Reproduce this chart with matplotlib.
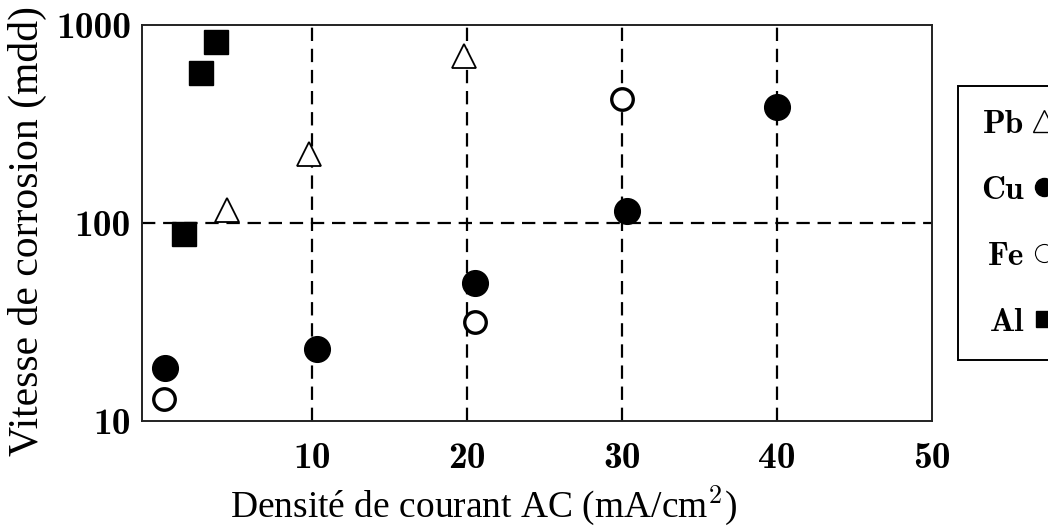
import matplotlib.pyplot as plt
from matplotlib.lines import Line2D

# values (log scale on y)
pb_x = [4.5, 9.8, 19.8]
pb_y = [116, 223, 700]

cu_x = [0.5, 10.3, 20.5, 30.3, 40.0]
cu_y = [18.5, 23, 50, 115, 384]

fe_x = [0.4, 20.5, 30.0]
fe_y = [12.9, 31.5, 424]

al_x = [1.7, 2.8, 3.8]
al_y = [88, 570, 822]

x_ticks = [10, 20, 30, 40, 50]
y_ticks = [10, 100, 1000]
x_grid = [10, 20, 30, 40]
y_grid = [100]

plt.rcParams['mathtext.fontset'] = 'cm'

fig = plt.figure(figsize=(10.48, 5.32), dpi=100)
ax = fig.add_axes([142 / 1048, 1 - 421 / 532, 790 / 1048, 396 / 532])

ax.set_yscale('log')
ax.set_xlim(-1, 50)
ax.set_ylim(10, 1000)

# dashed reference lines
for gx in x_grid:
    ax.axvline(gx, color='black', lw=1.6, ls=(0, (6, 3.5)), zorder=1)
for gy in y_grid:
    ax.axhline(gy, color='black', lw=1.6, ls=(0, (6, 3.5)), zorder=1)

ax.plot(pb_x, pb_y, ls='none', marker='^', ms=17, mfc='white', mec='black', mew=1.3, zorder=3)
ax.plot(cu_x, cu_y, ls='none', marker='o', ms=18.5, mfc='black', mec='black', zorder=3)
ax.plot(fe_x, fe_y, ls='none', marker='o', ms=15.5, mfc='white', mec='black', mew=2.4, zorder=3)
ax.plot(al_x, al_y, ls='none', marker='s', ms=17, mfc='black', mec='black', zorder=3)

ax.set_xticks(x_ticks)
ax.set_xticklabels([str(t) for t in x_ticks])
ax.set_yticks(y_ticks)
ax.set_yticklabels([str(t) for t in y_ticks])
ax.minorticks_off()
ax.tick_params(length=0)
ax.tick_params(axis='x', pad=15)
ax.tick_params(axis='y', pad=8)
for lab in ax.get_xticklabels() + ax.get_yticklabels():
    lab.set_family('cmb10')
    lab.set_fontsize(27)

for sp in ax.spines.values():
    sp.set_linewidth(1.4)
    sp.set_color('#222222')

ax.set_xlabel('Densité de courant AC (mA/cm$^2$)', family='Liberation Serif', fontsize=27)
ax.set_ylabel('Vitesse de corrosion (mdd)', family='Liberation Serif', fontsize=30)
ax.xaxis.set_label_coords(0.432, -0.16)
ax.yaxis.set_label_coords(-0.12, 0.48)

# legend: name on the left, symbol on the right
handles = [
    Line2D([], [], ls='none', marker='^', ms=16, mfc='white', mec='black', mew=1.0),
    Line2D([], [], ls='none', marker='o', ms=13, mfc='black', mec='black'),
    Line2D([], [], ls='none', marker='o', ms=13, mfc='white', mec='black', mew=0.8),
    Line2D([], [], ls='none', marker='s', ms=11, mfc='black', mec='black'),
]
leg = fig.legend(handles, ['Pb', 'Cu', 'Fe', 'Al'], loc='upper left',
                 bbox_to_anchor=(958 / 1048, 1 - 86 / 532), borderaxespad=0,
                 markerfirst=False, handlelength=0.8, handletextpad=0.2,
                 labelspacing=1.1, borderpad=0.7, fancybox=False,
                 edgecolor='black', framealpha=1,
                 prop={'family': 'cmb10', 'size': 24})
leg.get_frame().set_linewidth(1.4)

fig.savefig('out.png', dpi=100)
